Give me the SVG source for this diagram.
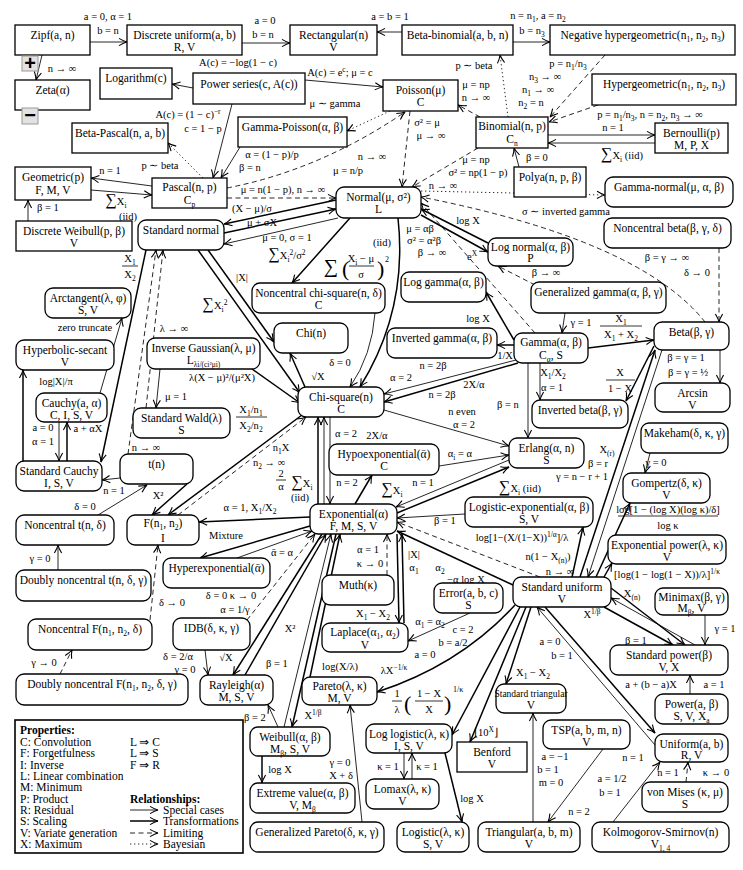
<svg xmlns="http://www.w3.org/2000/svg" width="743" height="870" viewBox="0 0 743 870">
<style>
text{font-family:"Liberation Serif","Times New Roman",serif;fill:#000}
.nt{font-size:11.5px;text-anchor:middle}
.lb{font-size:10.5px;text-anchor:middle}
.bx{fill:#fff;stroke:#000;stroke-width:1.3}
.e{fill:none;stroke:#000;stroke-width:0.85;marker-end:url(#ah)}
.t{stroke-width:1.5}
.d{stroke-dasharray:5 3.5}
.o{stroke-dasharray:1.3 2.7}
.sb{font-size:7.5px;baseline-shift:-3px}
.sp{font-size:7.5px;baseline-shift:4px}
.btn{fill:#e2e2e2;stroke:#9a9a9a;stroke-width:1}
.bt{font-family:"Liberation Sans",Arial,sans-serif;font-weight:bold;font-size:20px;text-anchor:middle}
.hd{font-weight:bold}
.lg{font-size:11.5px}
.fr{stroke:#000;stroke-width:0.8}
.big{font-size:16px}
.par{font-size:22px}
</style>
<defs>
<marker id="ah" viewBox="-10 -5 11 10" refX="0" refY="0" markerWidth="11" markerHeight="10" orient="auto" markerUnits="userSpaceOnUse">
<path d="M-8,-3.6 Q-3,-0.6 0,0 Q-3,0.6 -8,3.6" fill="none" stroke="#000" stroke-width="1.1" stroke-dasharray="none"/>
</marker>
</defs>
<rect x="0" y="0" width="743" height="870" fill="#fff"/>

<g id="connectors">
<path class="e" d="M90,42 L127,42"/>
<path class="e" d="M242,43 L290,43"/>
<path class="e" d="M402,32 L377,32"/>
<path class="e" d="M513,42 L550,42"/>
<path class="e" d="M42,55 L36,80"/>
<path class="e" d="M193,88 L172,84"/>
<path class="e" d="M305,80 L383,87"/>
<path class="e o" d="M390,111 L347,131"/>
<path class="e" d="M232,104 L213,178"/>
<path class="e" d="M240,147 L221,178"/>
<path class="e d" d="M227,188 Q320,170 405,112"/>
<path class="e o" d="M203,178 L168,143"/>
<path class="e" d="M152,186 L91,178"/>
<path class="e" d="M91,190 L152,195"/>
<path class="e" d="M28,221 L28,200"/>
<path class="e d" d="M227,198 L336,198"/>
<path class="e t" d="M336,200 L224,224"/>
<path class="e t" d="M224,233 L336,209"/>
<path class="e" d="M338,218 L224,244"/>
<path class="e d" d="M478,148 L412,187"/>
<path class="e d" d="M480,117 L458,105"/>
<path class="e o" d="M508,117 L500,55"/>
<path class="e d" d="M605,55 L550,117"/>
<path class="e d" d="M598,105 L549,122"/>
<path class="e" d="M548,135 L655,135"/>
<path class="e" d="M655,143 L548,143"/>
<path class="e" d="M519,167 L514,148"/>
<path class="e o" d="M421,191 L605,195"/>
<path class="e d" d="M705,322 Q640,240 421,197"/>
<path class="e d" d="M719,248 L719,322"/>
<path class="e t" d="M488,243 L421,209"/>
<path class="e t" d="M421,215 L488,252"/>
<path class="e d" d="M535,333 L421,203"/>
<path class="e d" d="M535,285 L498,266"/>
<path class="e t" d="M514,340 L486,292"/>
<path class="e" d="M565,313 L562,333"/>
<path class="e t" d="M514,345 L497,345"/>
<path class="e t" d="M588,348 L654,340"/>
<path class="e t" d="M654,346 L626,401"/>
<path class="e" d="M540,363 L540,400"/>
<path class="e" d="M720,350 L720,383"/>
<path class="e" d="M662,350 L588,577"/>
<path class="e t" d="M580,577 L655,350"/>
<path class="e" d="M650,453 L645,473"/>
<path class="e t" d="M596,577 L630,503"/>
<path class="e t" d="M604,577 L612,563"/>
<path class="e t" d="M611,588 L685,645"/>
<path class="e" d="M695,645 L611,598"/>
<path class="e t" d="M604,607 L673,645"/>
<path class="e" d="M705,615 L705,645"/>
<path class="e t" d="M513,585 L397,531"/>
<path class="e d" d="M540,577 L397,522"/>
<path class="e t" d="M572,577 L583,527"/>
<path class="e" d="M465,514 L397,518"/>
<path class="e" d="M509,460 L396,507"/>
<path class="e t" d="M397,513 L509,467"/>
<path class="e" d="M439,466 L509,455"/>
<path class="e t" d="M355,504 L372,475"/>
<path class="e" d="M528,363 L528,438"/>
<path class="e" d="M384,410 L509,446"/>
<path class="e" d="M516,360 L384,394"/>
<path class="e t" d="M518,363 L384,402"/>
<path class="e t" d="M318,504 L318,417"/>
<path class="e" d="M324,504 L324,417"/>
<path class="e" d="M330,417 L330,504"/>
<path class="e" d="M160,369 L156,408"/>
<path class="e d" d="M146,408 L163,250"/>
<path class="e d" d="M128,454 L156,250"/>
<path class="e t" d="M146,250 L101,462"/>
<path class="e" d="M100,393 L122,318"/>
<path class="e t" d="M23,461 L23,370"/>
<path class="e" d="M59,422 L59,461"/>
<path class="e t" d="M67,461 L67,422"/>
<path class="e t" d="M198,250 L300,393"/>
<path class="e t" d="M208,250 L274,342"/>
<path class="e t" d="M305,387 L290,353"/>
<path class="e" d="M375,313 Q372,355 350,387"/>
<path class="e t" d="M398,218 Q408,310 360,387"/>
<path class="e t" d="M350,218 L292,283"/>
<path class="e t" d="M252,369 L300,403"/>
<path class="e t" d="M302,415 L168,515"/>
<path class="e d" d="M178,515 L306,417"/>
<path class="e t" d="M187,484 L152,515"/>
<path class="e" d="M120,478 L102,480"/>
<path class="e" d="M98,515 L147,485"/>
<path class="e" d="M58,570 L58,545"/>
<path class="e d" d="M150,620 L158,545"/>
<path class="e d" d="M60,674 L72,650"/>
<path class="e t" d="M310,517 L199,522"/>
<path class="e t" d="M310,526 L200,558"/>
<path class="e" d="M237,558 L312,531"/>
<path class="e d" d="M247,620 L315,534"/>
<path class="e" d="M205,650 L208,675"/>
<path class="e t" d="M322,534 L233,675"/>
<path class="e t" d="M245,675 L326,534"/>
<path class="e" d="M284,727 L331,534"/>
<path class="e t" d="M336,534 L292,727"/>
<path class="e t" d="M310,677 L340,534"/>
<path class="e" d="M278,727 L268,705"/>
<path class="e t" d="M515,605 Q460,665 377,692"/>
<path class="e" d="M362,822 L350,705"/>
<path class="e t" d="M262,756 L262,783"/>
<path class="e" d="M404,753 L404,779"/>
<path class="e" d="M412,779 L412,753"/>
<path class="e t" d="M445,753 L462,822"/>
<path class="e t" d="M520,607 L452,735"/>
<path class="e t" d="M526,607 L470,742"/>
<path class="e t" d="M531,607 L506,684"/>
<path class="e" d="M533,822 L533,713"/>
<path class="e" d="M603,749 L548,822"/>
<path class="e t" d="M545,607 L655,733"/>
<path class="e" d="M655,745 L537,607"/>
<path class="e" d="M613,822 L660,762"/>
<path class="e d" d="M686,782 L688,762"/>
<path class="e" d="M690,694 L690,675"/>
<path class="e d" d="M410,111 L402,187"/>
<path class="e d" d="M387,575 L387,534"/>
<path class="e t" d="M397,534 L399,623"/>
<path class="e t" d="M404,623 L402,534"/>
<path class="e" d="M470,613 L408,641"/>
</g>

<g id="edge-labels">
<text class="lb" x="108" y="20">a = 0, α = 1</text>
<text class="lb" x="108" y="34">b = n</text>
<text class="lb" x="265" y="24">a = 0</text>
<text class="lb" x="263" y="38">b = n</text>
<text class="lb" x="390" y="20">a = b = 1</text>
<text class="lb" x="538" y="19">n = n<tspan class="sb">1</tspan>, a = n<tspan class="sb">2</tspan></text>
<text class="lb" x="532" y="34">b = n<tspan class="sb">3</tspan></text>
<text class="lb" x="62" y="72">n → ∞</text>
<text class="lb" x="238" y="66">A(c) = −log(1 − c)</text>
<text class="lb" x="340" y="76">A(c) = e<tspan class="sp">c</tspan>; μ = c</text>
<text class="lb" x="335" y="107">μ ∼ gamma</text>
<text class="lb" x="188" y="118">A(c) = (1 − c)<tspan class="sp">−r</tspan></text>
<text class="lb" x="203" y="132">c = 1 − p</text>
<text class="lb" x="272" y="158">α = (1 − p)/p</text>
<text class="lb" x="250" y="171">β = n</text>
<text class="lb" x="372" y="160">n → ∞</text>
<text class="lb" x="348" y="174">μ = n/p</text>
<text class="lb" x="160" y="169">p ∼ beta</text>
<text class="lb" x="110" y="174">n = 1</text>
<text class="lb" x="116" y="205"><tspan class="big">∑</tspan>X<tspan class="sb">i</tspan></text>
<text class="lb" x="128" y="220">(iid)</text>
<text class="lb" x="48" y="211">β = 1</text>
<text class="lb" x="283" y="193">μ = n(1 − p), n → ∞</text>
<text class="lb" x="252" y="212">(X − μ)/σ</text>
<text class="lb" x="262" y="226">μ + σX</text>
<text class="lb" x="287" y="241">μ = 0, σ = 1</text>
<text class="lb" x="476" y="163">μ = np</text>
<text class="lb" x="478" y="176">σ² = np(1 − p)</text>
<text class="lb" x="443" y="189">n → ∞</text>
<text class="lb" x="476" y="88">μ = np</text>
<text class="lb" x="476" y="101">n → ∞</text>
<text class="lb" x="427" y="126">σ² = μ</text>
<text class="lb" x="431" y="139">μ → ∞</text>
<text class="lb" x="474" y="69">p ∼ beta</text>
<text class="lb" x="568" y="67">p = n<tspan class="sb">1</tspan>/n<tspan class="sb">3</tspan></text>
<text class="lb" x="545" y="80">n<tspan class="sb">3</tspan> → ∞</text>
<text class="lb" x="538" y="93">n<tspan class="sb">1</tspan> → ∞</text>
<text class="lb" x="531" y="106">n<tspan class="sb">2</tspan> = n</text>
<text class="lb" x="650" y="118">p = n<tspan class="sb">1</tspan>/n<tspan class="sb">3</tspan>, n = n<tspan class="sb">2</tspan>, n<tspan class="sb">3</tspan> → ∞</text>
<text class="lb" x="613" y="131">n = 1</text>
<text class="lb" x="622" y="159"><tspan class="big">∑</tspan>X<tspan class="sb">i</tspan> (iid)</text>
<text class="lb" x="537" y="161">β = 0</text>
<text class="lb" x="566" y="215">σ ∼ inverted gamma</text>
<text class="lb" x="468" y="224">log X</text>
<text class="lb" x="472" y="260">e<tspan class="sp">X</tspan></text>
<text class="lb" x="667" y="261">β = γ → ∞</text>
<text class="lb" x="697" y="276">δ → 0</text>
<text class="lb" x="420" y="232">μ = αβ</text>
<text class="lb" x="424" y="244">σ² = α²β</text>
<text class="lb" x="432" y="256">β → ∞</text>
<text class="lb" x="382" y="246">(iid)</text>
<text class="lb" x="331" y="273"><tspan style="font-size:20px">∑</tspan></text>
<text class="par" x="342" y="276">(</text>
<text class="lb" x="361" y="262">X<tspan class="sb">i</tspan> − μ</text>
<line class="fr" x1="349" y1="266" x2="374" y2="266"/>
<text class="lb" x="361" y="278">σ</text>
<text class="par" x="377" y="276">)</text>
<text x="385" y="262" style="font-size:8px">2</text>
<text class="lb" x="287" y="259"><tspan class="big">∑</tspan>X<tspan class="sb">i</tspan><tspan class="sp">2</tspan>/σ<tspan class="sp">2</tspan></text>
<text class="lb" x="546" y="276">β → ∞</text>
<text class="lb" x="478" y="322">log X</text>
<text class="lb" x="581" y="326">γ = 1</text>
<text class="lb" x="505" y="359">1/X</text>
<text class="lb" x="621" y="322">X<tspan class="sb">1</tspan></text>
<line class="fr" x1="600" y1="326" x2="642" y2="326"/>
<text class="lb" x="621" y="338">X<tspan class="sb">1</tspan> + X<tspan class="sb">2</tspan></text>
<text class="lb" x="130" y="262">X<tspan class="sb">1</tspan></text>
<line class="fr" x1="122" y1="266" x2="138" y2="266"/>
<text class="lb" x="130" y="278">X<tspan class="sb">2</tspan></text>
<text class="lb" x="242" y="281">|X|</text>
<text class="lb" x="215" y="309"><tspan class="big">∑</tspan>X<tspan class="sb">i</tspan><tspan class="sp">2</tspan></text>
<text class="lb" x="85" y="331">zero truncate</text>
<text class="lb" x="174" y="332">λ → ∞</text>
<text class="lb" x="318" y="380">√X</text>
<text class="lb" x="340" y="366">δ = 0</text>
<text class="lb" x="222" y="381">λ(X − μ)²/(μ²X)</text>
<text class="lb" x="176" y="400">μ = 1</text>
<text class="lb" x="56" y="385">log|X|/π</text>
<text class="lb" x="43" y="431">a = 0</text>
<text class="lb" x="43" y="445">α = 1</text>
<text class="lb" x="88" y="432">a + αX</text>
<text class="lb" x="433" y="369">n = 2β</text>
<text class="lb" x="401" y="381">α = 2</text>
<text class="lb" x="474" y="388">2X/α</text>
<text class="lb" x="442" y="398">n = 2β</text>
<text class="lb" x="553" y="376">X<tspan class="sb">1</tspan>/X<tspan class="sb">2</tspan></text>
<text class="lb" x="552" y="391">α = 1</text>
<text class="lb" x="620" y="376">X</text>
<line class="fr" x1="606" y1="380" x2="635" y2="380"/>
<text class="lb" x="620" y="392">1 − X</text>
<text class="lb" x="686" y="361">β = γ = 1</text>
<text class="lb" x="688" y="376">β = γ = ½</text>
<text class="lb" x="508" y="408">β = n</text>
<text class="lb" x="462" y="415">n even</text>
<text class="lb" x="464" y="428">α = 2</text>
<text class="lb" x="251" y="413">X<tspan class="sb">1</tspan>/n<tspan class="sb">1</tspan></text>
<line class="fr" x1="236" y1="417" x2="267" y2="417"/>
<text class="lb" x="251" y="429">X<tspan class="sb">2</tspan>/n<tspan class="sb">2</tspan></text>
<text class="lb" x="146" y="451">n → ∞</text>
<text class="lb" x="281" y="451">n<tspan class="sb">1</tspan>X</text>
<text class="lb" x="269" y="466">n<tspan class="sb">2</tspan> → ∞</text>
<text class="lb" x="281" y="477">2</text>
<line class="fr" x1="276" y1="480" x2="286" y2="480"/>
<text class="lb" x="281" y="490">α</text>
<text class="lb" x="302" y="487"><tspan class="big">∑</tspan>X<tspan class="sb">i</tspan></text>
<text class="lb" x="300" y="501">(iid)</text>
<text class="lb" x="346" y="437">α = 2</text>
<text class="lb" x="347" y="486">n = 2</text>
<text class="lb" x="377" y="439">2X/α</text>
<text class="lb" x="392" y="494"><tspan class="big">∑</tspan>X<tspan class="sb">i</tspan></text>
<text class="lb" x="460" y="457">α<tspan class="sb">i</tspan> = α</text>
<text class="lb" x="423" y="486">n = 1</text>
<text class="lb" x="520" y="492"><tspan class="big">∑</tspan>X<tspan class="sb">i</tspan> (iid)</text>
<text class="lb" x="607" y="453">X<tspan class="sb">(r)</tspan></text>
<text class="lb" x="598" y="467">β = r</text>
<text class="lb" x="582" y="480">γ = n − r + 1</text>
<text class="lb" x="656" y="466">γ = 0</text>
<text class="lb" x="668" y="513">log[1 − (log X)(log κ)/δ]</text>
<line class="fr" x1="618" y1="516" x2="718" y2="516"/>
<text class="lb" x="668" y="529">log κ</text>
<text class="lb" x="445" y="524">β = 1</text>
<text class="lb" x="250" y="511">α = 1, X<tspan class="sb">1</tspan>/X<tspan class="sb">2</tspan></text>
<text class="lb" x="226" y="539">Mixture</text>
<text class="lb" x="282" y="556">ᾱ = α</text>
<text class="lb" x="158" y="499">X²</text>
<text class="lb" x="114" y="494">n = 1</text>
<text class="lb" x="85" y="510">δ = 0</text>
<text class="lb" x="522" y="541">log[1−(X/(1−X))<tspan class="sp">1/α</tspan>]/λ</text>
<text class="lb" x="548" y="560">n(1 − X<tspan class="sb">(n)</tspan>)</text>
<text class="lb" x="560" y="575">n → ∞</text>
<text class="lb" x="368" y="553">α = 1</text>
<text class="lb" x="370" y="567">κ → 0</text>
<text class="lb" x="414" y="558">|X|</text>
<text class="lb" x="414" y="571">α<tspan class="sb">1</tspan></text>
<text class="lb" x="440" y="571">α<tspan class="sb">2</tspan></text>
<text class="lb" x="466" y="583">−α log X</text>
<text class="lb" x="667" y="578">[log(1 − log(1 − X))/λ]<tspan class="sp">1/κ</tspan></text>
<text class="lb" x="632" y="597">X<tspan class="sb">(n)</tspan></text>
<text class="lb" x="592" y="618">X<tspan class="sp">1/β</tspan></text>
<text class="lb" x="725" y="632">γ = 1</text>
<text class="lb" x="636" y="644">β = 1</text>
<text class="lb" x="40" y="562">γ = 0</text>
<text class="lb" x="172" y="606">δ → 0</text>
<text class="lb" x="231" y="599">δ = 0  κ → 0</text>
<text class="lb" x="235" y="613">α = 1/γ</text>
<text class="lb" x="373" y="617">X<tspan class="sb">1</tspan> − X<tspan class="sb">2</tspan></text>
<text class="lb" x="430" y="625">α<tspan class="sb">1</tspan> = α<tspan class="sb">2</tspan></text>
<text class="lb" x="463" y="633">c = 2</text>
<text class="lb" x="453" y="646">b = a/2</text>
<text class="lb" x="425" y="658">a = 0</text>
<text class="lb" x="290" y="632">X²</text>
<text class="lb" x="44" y="666">γ → 0</text>
<text class="lb" x="178" y="660">δ = 2/α</text>
<text class="lb" x="185" y="673">γ = 0</text>
<text class="lb" x="226" y="661">√X</text>
<text class="lb" x="277" y="667">β = 1</text>
<text class="lb" x="340" y="670">log(X/λ)</text>
<text class="lb" x="394" y="674">λX<tspan class="sp">−1/κ</tspan></text>
<text class="lb" x="550" y="645">a = 0</text>
<text class="lb" x="562" y="659">b = 1</text>
<text class="lb" x="533" y="676">X<tspan class="sb">1</tspan> − X<tspan class="sb">2</tspan></text>
<text class="lb" x="651" y="688">a + (b − a)X</text>
<text class="lb" x="714" y="688">a = 1</text>
<text class="lb" x="255" y="721">β = 2</text>
<text class="lb" x="313" y="719">X<tspan class="sp">1/β</tspan></text>
<text class="lb" x="397" y="697">1</text>
<line class="fr" x1="392" y1="701" x2="402" y2="701"/>
<text class="lb" x="397" y="713">λ</text>
<text class="par" x="404" y="711">(</text>
<text class="lb" x="429" y="697">1 − X</text>
<line class="fr" x1="415" y1="701" x2="443" y2="701"/>
<text class="lb" x="429" y="713">X</text>
<text class="par" x="444" y="711">)</text>
<text x="453" y="692" style="font-size:8px">1/κ</text>
<text class="lb" x="486" y="736">⌊10<tspan class="sp">X</tspan>⌋</text>
<text class="lb" x="280" y="773">log X</text>
<text class="lb" x="388" y="770">κ = 1</text>
<text class="lb" x="427" y="770">κ = 1</text>
<text class="lb" x="340" y="766">γ = 0</text>
<text class="lb" x="341" y="779">X + δ</text>
<text class="lb" x="472" y="802">log X</text>
<text class="lb" x="555" y="760">a = −1</text>
<text class="lb" x="548" y="773">b = 1</text>
<text class="lb" x="551" y="786">m = 0</text>
<text class="lb" x="579" y="815">n = 2</text>
<text class="lb" x="633" y="761">n = 1</text>
<text class="lb" x="612" y="782">a = 1/2</text>
<text class="lb" x="610" y="796">b = 1</text>
<text class="lb" x="668" y="776">n = 1</text>
<text class="lb" x="716" y="776">κ → 0</text>
</g>

<g id="nodes">
<g id="zipf"><rect class="bx" x="15" y="25" width="75" height="30"/><text class="nt" x="52.5" y="39">Zipf(a, n)</text></g>
<g id="discrete-uniform"><rect class="bx" x="127" y="25" width="115" height="30"/><text class="nt" x="184.5" y="39">Discrete uniform(a, b)</text><text class="nt" x="184.5" y="51">R, V</text></g>
<g id="rectangular"><rect class="bx" x="290" y="25" width="87" height="30"/><text class="nt" x="333.5" y="39">Rectangular(n)</text><text class="nt" x="333.5" y="51">V</text></g>
<g id="beta-binomial"><rect class="bx" x="402" y="25" width="111" height="30"/><text class="nt" x="457.5" y="39">Beta-binomial(a, b, n)</text></g>
<g id="negative-hypergeometric"><rect class="bx" x="550" y="25" width="185" height="30"/><text class="nt" x="642.5" y="39">Negative hypergeometric(n<tspan class="sb">1</tspan>, n<tspan class="sb">2</tspan>, n<tspan class="sb">3</tspan>)</text></g>
<g id="zeta"><rect class="bx" x="15" y="80" width="75" height="30"/><text class="nt" x="52.5" y="94">Zeta(α)</text></g>
<g id="btn-plus"><rect class="btn" x="22" y="56" width="16" height="15"/><text class="bt" x="30" y="70">+</text></g>
<g id="btn-minus"><rect class="btn" x="22" y="108" width="16" height="16"/><text class="bt" x="30" y="122">−</text></g>
<g id="logarithm"><rect class="bx" x="100" y="68" width="72" height="31"/><text class="nt" x="136" y="82">Logarithm(c)</text></g>
<g id="power-series"><rect class="bx" x="193" y="73" width="112" height="31"/><text class="nt" x="249" y="88">Power series(c, A(c))</text></g>
<g id="poisson"><rect class="bx" x="383" y="80" width="75" height="31"/><text class="nt" x="420.5" y="94">Poisson(μ)</text><text class="nt" x="420.5" y="106">C</text></g>
<g id="hypergeometric"><rect class="bx" x="592" y="74" width="144" height="31"/><text class="nt" x="664" y="88">Hypergeometric(n<tspan class="sb">1</tspan>, n<tspan class="sb">2</tspan>, n<tspan class="sb">3</tspan>)</text></g>
<g id="beta-pascal"><rect class="bx" x="72" y="123" width="96" height="30"/><text class="nt" x="120" y="137">Beta-Pascal(n, a, b)</text></g>
<g id="gamma-poisson"><rect class="bx" x="238" y="117" width="109" height="30"/><text class="nt" x="292.5" y="131">Gamma-Poisson(α, β)</text></g>
<g id="binomial"><rect class="bx" x="476" y="117" width="72" height="31"/><text class="nt" x="512" y="130">Binomial(n, p)</text><text class="nt" x="512" y="143">C<tspan class="sb">n</tspan></text></g>
<g id="bernoulli"><rect class="bx" x="655" y="123" width="73" height="30"/><text class="nt" x="691.5" y="137">Bernoulli(p)</text><text class="nt" x="691.5" y="149">M, P, X</text></g>
<g id="polya"><rect class="bx" x="514" y="167" width="72" height="30"/><text class="nt" x="550" y="181">Polya(n, p, β)</text></g>
<g id="gamma-normal"><rect class="bx" x="605" y="177" width="128" height="30" rx="8"/><text class="nt" x="669" y="191">Gamma-normal(μ, α, β)</text></g>
<g id="geometric"><rect class="bx" x="15" y="167" width="76" height="33"/><text class="nt" x="53" y="181">Geometric(p)</text><text class="nt" x="53" y="194">F, M, V</text></g>
<g id="pascal"><rect class="bx" x="152" y="178" width="75" height="30"/><text class="nt" x="189.5" y="191">Pascal(n, p)</text><text class="nt" x="189.5" y="204">C<tspan class="sb">p</tspan></text></g>
<g id="normal"><rect class="bx" x="336" y="187" width="85" height="31" rx="8"/><text class="nt" x="378.5" y="201">Normal(μ, σ²)</text><text class="nt" x="378.5" y="213">L</text></g>
<g id="discrete-weibull"><rect class="bx" x="16" y="221" width="116" height="30"/><text class="nt" x="74" y="235">Discrete Weibull(p, β)</text><text class="nt" x="74" y="247">V</text></g>
<g id="standard-normal"><rect class="bx" x="138" y="220" width="86" height="30" rx="8"/><text class="nt" x="181" y="234">Standard normal</text></g>
<g id="noncentral-beta"><rect class="bx" x="604" y="218" width="127" height="30" rx="8"/><text class="nt" x="667.5" y="232">Noncentral beta(β, γ, δ)</text></g>
<g id="log-normal"><rect class="bx" x="488" y="238" width="85" height="28" rx="8"/><text class="nt" x="530.5" y="251">Log normal(α, β)</text><text class="nt" x="530.5" y="262">P</text></g>
<g id="noncentral-chi-square"><rect class="bx" x="252" y="283" width="133" height="30" rx="8"/><text class="nt" x="318.5" y="297">Noncentral chi-square(n, δ)</text><text class="nt" x="318.5" y="309">C</text></g>
<g id="log-gamma"><rect class="bx" x="401" y="272" width="85" height="30" rx="8"/><text class="nt" x="443.5" y="286">Log gamma(α, β)</text></g>
<g id="generalized-gamma"><rect class="bx" x="531" y="282" width="135" height="31" rx="8"/><text class="nt" x="598.5" y="296">Generalized gamma(α, β, γ)</text></g>
<g id="arctangent"><rect class="bx" x="45" y="288" width="86" height="30" rx="8"/><text class="nt" x="88" y="302">Arctangent(λ, φ)</text><text class="nt" x="88" y="314">S, V</text></g>
<g id="hyperbolic-secant"><rect class="bx" x="16" y="340" width="98" height="30" rx="8"/><text class="nt" x="65" y="354">Hyperbolic-secant</text><text class="nt" x="65" y="366">V</text></g>
<g id="chi"><rect class="bx" x="274" y="323" width="74" height="30" rx="8"/><text class="nt" x="311" y="337">Chi(n)</text></g>
<g id="inverse-gaussian"><rect class="bx" x="147" y="338" width="113" height="31" rx="8"/><text class="nt" x="203.5" y="352">Inverse Gaussian(λ, μ)</text><text class="nt" x="203.5" y="364">L<tspan class="sb">λi/(ci²μi)</tspan></text></g>
<g id="inverted-gamma"><rect class="bx" x="387" y="328" width="110" height="30" rx="8"/><text class="nt" x="442" y="342">Inverted gamma(α, β)</text></g>
<g id="gamma"><rect class="bx" x="514" y="333" width="74" height="30" rx="8"/><text class="nt" x="551" y="346">Gamma(α, β)</text><text class="nt" x="551" y="359">C<tspan class="sb">α</tspan>, S</text></g>
<g id="beta"><rect class="bx" x="654" y="322" width="75" height="28" rx="8"/><text class="nt" x="691.5" y="336">Beta(β, γ)</text></g>
<g id="arcsin"><rect class="bx" x="655" y="383" width="75" height="29" rx="8"/><text class="nt" x="692.5" y="397">Arcsin</text><text class="nt" x="692.5" y="409">V</text></g>
<g id="cauchy"><rect class="bx" x="36" y="393" width="71" height="29" rx="8"/><text class="nt" x="71.5" y="407">Cauchy(a, α)</text><text class="nt" x="71.5" y="419">C, I, S, V</text></g>
<g id="chi-square"><rect class="bx" x="298" y="387" width="86" height="30" rx="8"/><text class="nt" x="341" y="401">Chi-square(n)</text><text class="nt" x="341" y="413">C</text></g>
<g id="standard-wald"><rect class="bx" x="133" y="408" width="97" height="30" rx="8"/><text class="nt" x="181.5" y="422">Standard Wald(λ)</text><text class="nt" x="181.5" y="434">S</text></g>
<g id="inverted-beta"><rect class="bx" x="532" y="400" width="96" height="28" rx="8"/><text class="nt" x="580" y="414">Inverted beta(β, γ)</text></g>
<g id="makeham"><rect class="bx" x="641" y="423" width="87" height="30" rx="8"/><text class="nt" x="684.5" y="437">Makeham(δ, κ, γ)</text></g>
<g id="erlang"><rect class="bx" x="509" y="438" width="75" height="30" rx="8"/><text class="nt" x="546.5" y="452">Erlang(α, n)</text><text class="nt" x="546.5" y="464">S</text></g>
<g id="hypoexponential"><rect class="bx" x="329" y="444" width="110" height="31" rx="8"/><text class="nt" x="384" y="458">Hypoexponential(ᾱ)</text><text class="nt" x="384" y="470">C</text></g>
<g id="standard-cauchy"><rect class="bx" x="16" y="461" width="86" height="30" rx="8"/><text class="nt" x="59" y="475">Standard Cauchy</text><text class="nt" x="59" y="487">I, S, V</text></g>
<g id="t"><rect class="bx" x="120" y="454" width="73" height="30" rx="8"/><text class="nt" x="156.5" y="468">t(n)</text></g>
<g id="gompertz"><rect class="bx" x="623" y="473" width="87" height="30" rx="8"/><text class="nt" x="666.5" y="487">Gompertz(δ, κ)</text><text class="nt" x="666.5" y="499">V</text></g>
<g id="logistic-exponential"><rect class="bx" x="465" y="497" width="128" height="30" rx="8"/><text class="nt" x="529" y="511">Logistic-exponential(α, β)</text><text class="nt" x="529" y="523">S, V</text></g>
<g id="exponential"><rect class="bx" x="310" y="504" width="87" height="30" rx="8"/><text class="nt" x="353.5" y="518">Exponential(α)</text><text class="nt" x="353.5" y="530">F, M, S, V</text></g>
<g id="noncentral-t"><rect class="bx" x="16" y="515" width="98" height="30" rx="8"/><text class="nt" x="65" y="529">Noncentral t(n, δ)</text></g>
<g id="f"><rect class="bx" x="127" y="515" width="72" height="30" rx="8"/><text class="nt" x="163" y="527">F(n<tspan class="sb">1</tspan>, n<tspan class="sb">2</tspan>)</text><text class="nt" x="163" y="542">I</text></g>
<g id="exponential-power"><rect class="bx" x="608" y="535" width="118" height="29" rx="8"/><text class="nt" x="667" y="549">Exponential power(λ, κ)</text><text class="nt" x="667" y="561">V</text></g>
<g id="hyperexponential"><rect class="bx" x="163" y="558" width="107" height="30" rx="8"/><text class="nt" x="216.5" y="572">Hyperexponential(ᾱ)</text></g>
<g id="doubly-noncentral-t"><rect class="bx" x="16" y="570" width="135" height="31" rx="8"/><text class="nt" x="83.5" y="584">Doubly noncentral t(n, δ, γ)</text></g>
<g id="muth"><rect class="bx" x="322" y="575" width="72" height="30" rx="8"/><text class="nt" x="358" y="589">Muth(κ)</text></g>
<g id="standard-uniform"><rect class="bx" x="513" y="577" width="98" height="30" rx="8"/><text class="nt" x="562" y="591">Standard uniform</text><text class="nt" x="562" y="603">V</text></g>
<g id="error"><rect class="bx" x="434" y="583" width="69" height="30" rx="8"/><text class="nt" x="468.5" y="597">Error(a, b, c)</text><text class="nt" x="468.5" y="609">S</text></g>
<g id="minimax"><rect class="bx" x="655" y="588" width="73" height="27" rx="8"/><text class="nt" x="691.5" y="601">Minimax(β, γ)</text><text class="nt" x="691.5" y="612">M<tspan class="sb">β</tspan>, V</text></g>
<g id="noncentral-f"><rect class="bx" x="28" y="619" width="124" height="31" rx="8"/><text class="nt" x="90" y="633">Noncentral F(n<tspan class="sb">1</tspan>, n<tspan class="sb">2</tspan>, δ)</text></g>
<g id="idb"><rect class="bx" x="173" y="618" width="77" height="32" rx="8"/><text class="nt" x="211.5" y="632">IDB(δ, κ, γ)</text></g>
<g id="laplace"><rect class="bx" x="322" y="623" width="86" height="29" rx="8"/><text class="nt" x="365" y="636">Laplace(α<tspan class="sb">1</tspan>, α<tspan class="sb">2</tspan>)</text><text class="nt" x="365" y="649">V</text></g>
<g id="standard-power"><rect class="bx" x="610" y="645" width="118" height="30" rx="8"/><text class="nt" x="669" y="659">Standard power(β)</text><text class="nt" x="669" y="671">V, X</text></g>
<g id="doubly-noncentral-f"><rect class="bx" x="16" y="674" width="172" height="31" rx="8"/><text class="nt" x="102" y="688">Doubly noncentral F(n<tspan class="sb">1</tspan>, n<tspan class="sb">2</tspan>, δ, γ)</text></g>
<g id="rayleigh"><rect class="bx" x="200" y="675" width="73" height="30" rx="8"/><text class="nt" x="236.5" y="689">Rayleigh(α)</text><text class="nt" x="236.5" y="701">M, S, V</text></g>
<g id="pareto"><rect class="bx" x="302" y="677" width="75" height="28" rx="8"/><text class="nt" x="339.5" y="690">Pareto(λ, κ)</text><text class="nt" x="339.5" y="702">M, V</text></g>
<g id="standard-triangular"><rect class="bx" x="496" y="684" width="70" height="29" rx="8"/><text class="nt" x="531" y="697" style="font-size:9.5px">Standard triangular</text><text class="nt" x="531" y="709">V</text></g>
<g id="power"><rect class="bx" x="655" y="694" width="73" height="30" rx="8"/><text class="nt" x="691.5" y="708">Power(a, β)</text><text class="nt" x="691.5" y="720">S, V, X<tspan class="sb">a</tspan></text></g>
<g id="log-logistic"><rect class="bx" x="366" y="724" width="86" height="29" rx="8"/><text class="nt" x="409" y="738">Log logistic(λ, κ)</text><text class="nt" x="409" y="750">I, S, V</text></g>
<g id="weibull"><rect class="bx" x="250" y="727" width="80" height="29" rx="8"/><text class="nt" x="290" y="741">Weibull(α, β)</text><text class="nt" x="290" y="753">M<tspan class="sb">β</tspan>, S, V</text></g>
<g id="tsp"><rect class="bx" x="543" y="720" width="87" height="29" rx="8"/><text class="nt" x="586.5" y="734">TSP(a, b, m, n)</text><text class="nt" x="586.5" y="746">V</text></g>
<g id="uniform"><rect class="bx" x="655" y="734" width="73" height="28" rx="8"/><text class="nt" x="691.5" y="748">Uniform(a, b)</text><text class="nt" x="691.5" y="759">R, V</text></g>
<g id="benford"><rect class="bx" x="457" y="742" width="70" height="30"/><text class="nt" x="492" y="756">Benford</text><text class="nt" x="492" y="768">V</text></g>
<g id="lomax"><rect class="bx" x="366" y="779" width="73" height="30" rx="8"/><text class="nt" x="402.5" y="793">Lomax(λ, κ)</text><text class="nt" x="402.5" y="805">V</text></g>
<g id="von-mises"><rect class="bx" x="642" y="782" width="86" height="30" rx="8"/><text class="nt" x="685" y="796">von Mises (κ, μ)</text><text class="nt" x="685" y="808">S</text></g>
<g id="extreme-value"><rect class="bx" x="250" y="783" width="105" height="30" rx="8"/><text class="nt" x="302.5" y="797">Extreme value(α, β)</text><text class="nt" x="302.5" y="809">V, M<tspan class="sb">β</tspan></text></g>
<g id="generalized-pareto"><rect class="bx" x="250" y="822" width="134" height="30" rx="8"/><text class="nt" x="317" y="836">Generalized Pareto(δ, κ, γ)</text></g>
<g id="logistic"><rect class="bx" x="397" y="822" width="72" height="30" rx="8"/><text class="nt" x="433" y="836">Logistic(λ, κ)</text><text class="nt" x="433" y="848">S, V</text></g>
<g id="triangular"><rect class="bx" x="478" y="822" width="102" height="30" rx="8"/><text class="nt" x="529" y="836">Triangular(a, b, m)</text><text class="nt" x="529" y="848">V</text></g>
<g id="kolmogorov-smirnov"><rect class="bx" x="592" y="822" width="137" height="30" rx="8"/><text class="nt" x="660.5" y="836">Kolmogorov-Smirnov(n)</text><text class="nt" x="660.5" y="848">V<tspan class="sb">1, 4</tspan></text></g>
</g>

<g id="legend">
<rect x="15" y="720" width="228" height="133" fill="#fff" stroke="#000" stroke-width="1.6"/>
<text class="lg hd" x="20" y="734">Properties:</text>
<text class="lg" x="20" y="746">C: Convolution</text>
<text class="lg" x="20" y="757">F: Forgetfulness</text>
<text class="lg" x="20" y="769">I: Inverse</text>
<text class="lg" x="20" y="780">L: Linear combination</text>
<text class="lg" x="20" y="791">M: Minimum</text>
<text class="lg" x="20" y="803">P: Product</text>
<text class="lg" x="20" y="814">R: Residual</text>
<text class="lg" x="20" y="825">S: Scaling</text>
<text class="lg" x="20" y="837">V: Variate generation</text>
<text class="lg" x="20" y="848">X: Maximum</text>
<text class="lg" x="130" y="746">L ⇒ C</text>
<text class="lg" x="130" y="757">L ⇒ S</text>
<text class="lg" x="130" y="769">F ⇒ R</text>
<text class="lg hd" x="130" y="803">Relationships:</text>
<path class="e" d="M130,810 L158,810"/>
<path class="e t" d="M130,821 L158,821"/>
<path class="e d" d="M130,833 L158,833"/>
<path class="e o" d="M130,844 L158,844"/>
<text class="lg" x="163" y="814">Special cases</text>
<text class="lg" x="163" y="825">Transformations</text>
<text class="lg" x="163" y="837">Limiting</text>
<text class="lg" x="163" y="848">Bayesian</text>
</g>
</svg>
